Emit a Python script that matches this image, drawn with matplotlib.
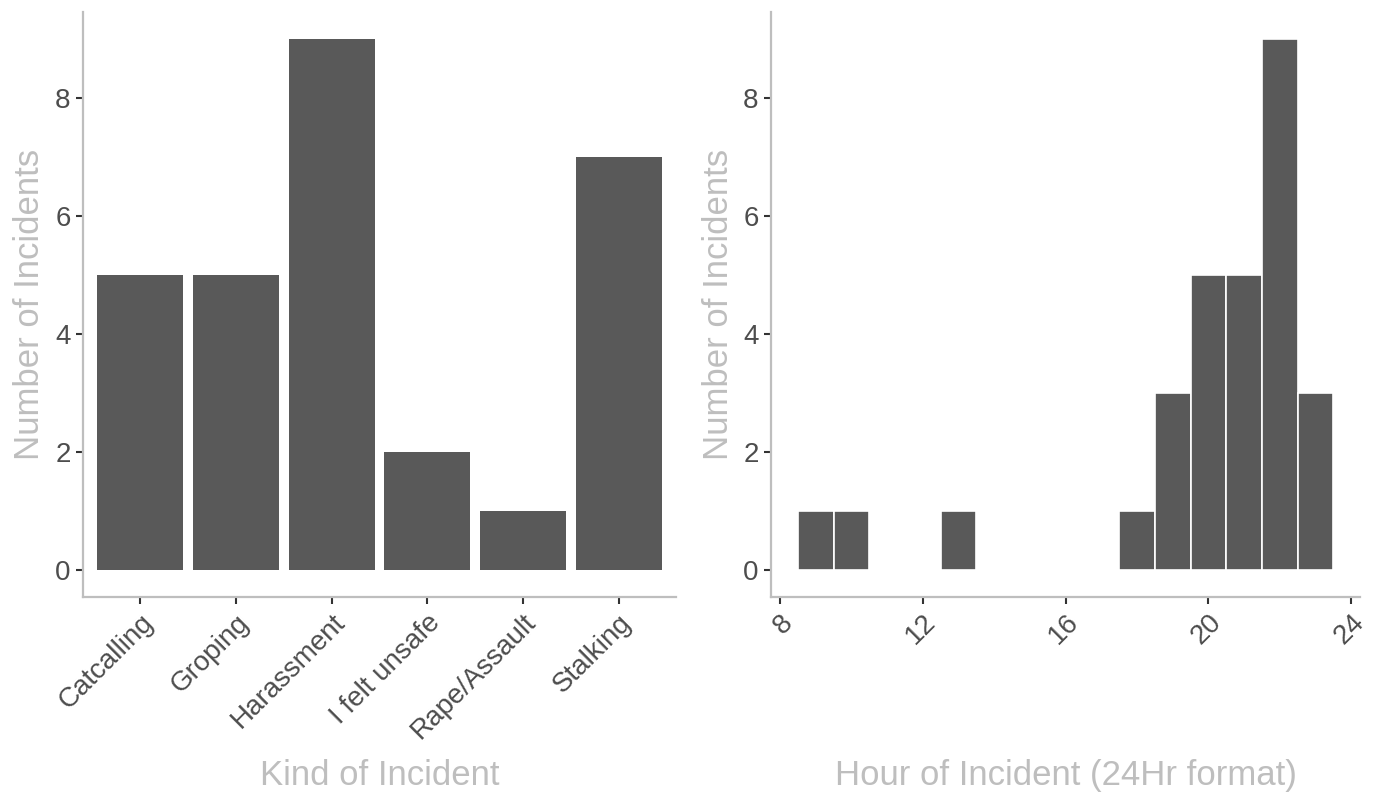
import numpy as np
import matplotlib
matplotlib.use('Agg')
import matplotlib.pyplot as plt

plt.rcParams['font.family'] = ['Liberation Sans', 'DejaVu Sans']

# ---------------- data ----------------
kinds = ['Catcalling', 'Groping', 'Harassment', 'I felt unsafe', 'Rape/Assault', 'Stalking']
kind_counts = [5, 5, 9, 2, 1, 7]

hours = [9, 10, 13, 18, 19, 20, 21, 22, 23]
hour_counts = [1, 1, 1, 1, 3, 5, 5, 9, 3]

bar_col = '#595959'
axis_col = '#BEBEBE'
tick_col = '#333333'
label_col = '#4D4D4D'
title_col = '#BEBEBE'


def style(ax):
    for s in ['top', 'right']:
        ax.spines[s].set_visible(False)
    for s in ['left', 'bottom']:
        ax.spines[s].set_color(axis_col)
        ax.spines[s].set_linewidth(1.6)
    ax.tick_params(axis='both', colors=tick_col, length=5, width=1.5, pad=4,
                   labelsize=20, labelcolor=label_col)
    ax.set_ylim(-0.45, 9.45)
    ax.set_yticks([0, 2, 4, 6, 8])
    ax.set_ylabel('Number of Incidents', fontsize=25, color=title_col)
    ax.yaxis.label.set_va('center')
    ax.yaxis.set_label_coords(-0.09, 0.5)


fig = plt.figure(figsize=(13.77, 7.97), dpi=100)
ax1 = fig.add_axes([0.0603, 0.251, 0.4306, 0.734])
ax2 = fig.add_axes([0.560, 0.251, 0.4277, 0.734])

# left: kinds
x = np.arange(1, len(kinds) + 1)
ax1.bar(x, kind_counts, width=0.9, color=bar_col)
style(ax1)
ax1.set_xlim(0.4, len(kinds) + 0.6)
ax1.set_xticks(x)
ax1.set_xticklabels(kinds, rotation=45, ha='right', rotation_mode='anchor')
ax1.set_xlabel('Kind of Incident', fontsize=25, color=title_col)

# right: hours
ax2.bar(hours, hour_counts, width=1.0, color=bar_col, edgecolor='white', linewidth=1.2)
style(ax2)
ax2.set_xlim(7.75, 24.25)
ax2.set_xticks([8, 12, 16, 20, 24])
ax2.set_xticklabels(['8', '12', '16', '20', '24'], rotation=45, ha='right',
                    rotation_mode='anchor')
ax2.set_xlabel('Hour of Incident (24Hr format)', fontsize=25, color=title_col)

for ax in (ax1, ax2):
    ax.xaxis.label.set_va('center')
    ax.xaxis.set_label_coords(0.5, -0.305)

fig.savefig('out.png', dpi=100)
